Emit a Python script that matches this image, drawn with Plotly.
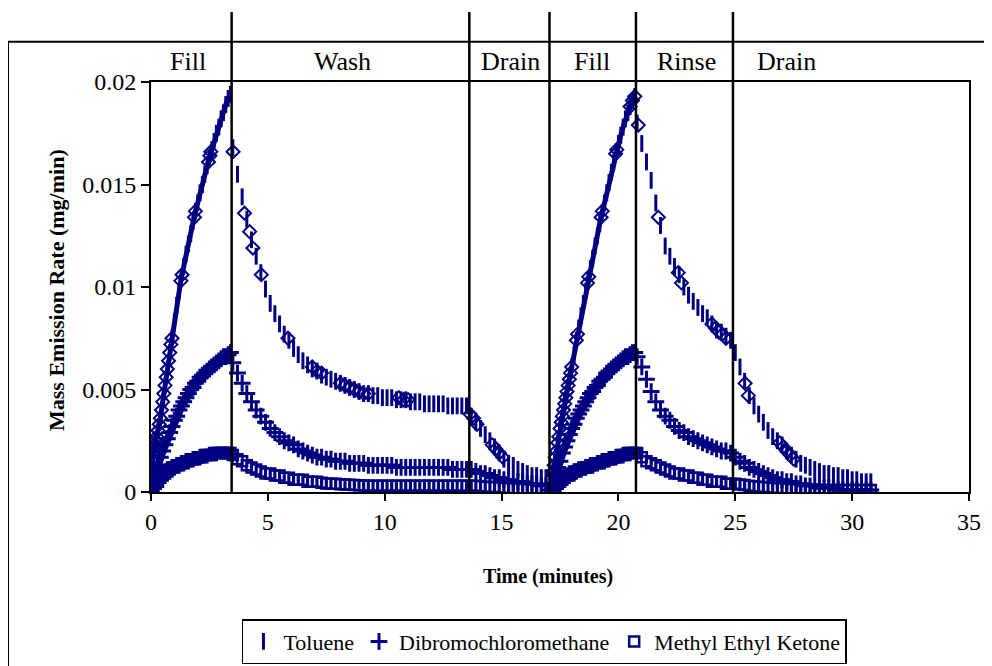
import plotly.graph_objects as go

# ---------------- data ----------------
t_fill1 = [0.0, 0.1, 0.2, 0.3, 0.4, 0.5, 0.6, 0.7, 0.8, 0.9, 1.0, 1.1, 1.2, 1.3, 1.4, 1.5, 1.6, 1.7,
           1.8, 1.9, 2.0, 2.1, 2.2, 2.3, 2.4, 2.5, 2.6, 2.7, 2.8, 2.9, 3.0, 3.1, 3.2, 3.3, 3.4]
t_wash = [3.5, 3.7, 3.9, 4.1, 4.3, 4.5, 4.7, 4.9, 5.1, 5.3, 5.5, 5.7, 5.9, 6.1, 6.3, 6.5, 6.7, 6.9,
          7.1, 7.3, 7.5, 7.7, 7.9, 8.1, 8.3, 8.5, 8.7, 8.9, 9.1, 9.3, 9.5, 9.7, 9.9, 10.1, 10.3, 10.5,
          10.7, 10.9, 11.1, 11.3, 11.5, 11.7, 11.9, 12.1, 12.3, 12.5, 12.7, 12.9, 13.1, 13.3, 13.5]
t_drain1 = [13.7, 13.9, 14.1, 14.3, 14.5, 14.7, 14.9, 15.1, 15.3, 15.5, 15.7, 15.9, 16.1, 16.3,
            16.5, 16.7, 16.9]
t_fill2 = [17.1, 17.2, 17.3, 17.4, 17.5, 17.6, 17.7, 17.8, 17.9, 18.0, 18.1, 18.2, 18.3, 18.4, 18.5,
           18.6, 18.7, 18.8, 18.9, 19.0, 19.1, 19.2, 19.3, 19.4, 19.5, 19.6, 19.7, 19.8, 19.9, 20.0,
           20.1, 20.2, 20.3, 20.4, 20.5, 20.6, 20.7]
t_rinse = [20.8, 21.0, 21.2, 21.4, 21.6, 21.8, 22.0, 22.2, 22.4, 22.6, 22.8, 23.0, 23.2, 23.4, 23.6,
           23.8, 24.0, 24.2, 24.4, 24.6, 24.8]
t_drain2 = [25.0, 25.2, 25.4, 25.6, 25.8, 26.0, 26.2, 26.4, 26.6, 26.8, 27.0, 27.2, 27.4, 27.6, 27.8,
            28.0, 28.2, 28.4, 28.6, 28.8, 29.0, 29.2, 29.4, 29.6, 29.8, 30.0, 30.2, 30.4, 30.6, 30.8]

# Toluene (mg/min)
tol_fill1 = [0.0002, 0.0020, 0.0025, 0.0030, 0.0036, 0.0044, 0.0052, 0.0060, 0.0068, 0.0075, 0.0083,
             0.0091, 0.0098, 0.0105, 0.0110, 0.0116, 0.0121, 0.0126, 0.0132, 0.0137, 0.0141, 0.0146,
             0.0150, 0.0155, 0.0159, 0.0163, 0.0167, 0.0171, 0.0175, 0.0178, 0.0182, 0.0185, 0.0189,
             0.0192, 0.0194]
tol_wash = [0.0168, 0.0155, 0.0144, 0.0133, 0.0123, 0.0115, 0.0107, 0.0099, 0.0092, 0.0087, 0.0082,
            0.0077, 0.0074, 0.0070, 0.0067, 0.0064, 0.0062, 0.0060, 0.0059, 0.0057, 0.0056, 0.0055,
            0.0054, 0.0053, 0.0052, 0.0051, 0.0050, 0.0049, 0.0048, 0.0048, 0.0047, 0.0047, 0.0046,
            0.0046, 0.0046, 0.0045, 0.0045, 0.0045, 0.0044, 0.0044, 0.0044, 0.0043, 0.0043, 0.0043,
            0.0043, 0.0043, 0.0042, 0.0042, 0.0042, 0.0042, 0.0042]
tol_drain1 = [0.0037, 0.0034, 0.0031, 0.0028, 0.0025, 0.0022, 0.0019, 0.0016, 0.0014, 0.0013, 0.0011,
              0.0010, 0.0009, 0.0008, 0.0008, 0.0007, 0.0007]
tol_fill2 = [0.0003, 0.0010, 0.0017, 0.0024, 0.0031, 0.0037, 0.0043, 0.0049, 0.0055, 0.0061, 0.0067,
             0.0074, 0.0080, 0.0086, 0.0092, 0.0098, 0.0103, 0.0109, 0.0114, 0.0120, 0.0125, 0.0131,
             0.0136, 0.0141, 0.0146, 0.0151, 0.0156, 0.0161, 0.0166, 0.0170, 0.0174, 0.0178, 0.0182,
             0.0185, 0.0188, 0.0191, 0.0193]
tol_rinse = [0.0180, 0.0170, 0.0161, 0.0152, 0.0141, 0.0130, 0.0120, 0.0115, 0.0110, 0.0106, 0.0100,
             0.0096, 0.0093, 0.0090, 0.0087, 0.0085, 0.0082, 0.0079, 0.0078, 0.0076, 0.0074]
tol_drain2 = [0.0068, 0.0061, 0.0054, 0.0047, 0.0042, 0.0038, 0.0034, 0.0030, 0.0027, 0.0025, 0.0023,
              0.0020, 0.0018, 0.0016, 0.0014, 0.0013, 0.0012, 0.0011, 0.0010, 0.0009, 0.0009, 0.0008,
              0.0008, 0.0007, 0.0007, 0.0006, 0.0006, 0.0005, 0.0005, 0.0005]

# Dibromochloromethane (mg/min)
dbcm_fill1 = [0.0000, 0.0005, 0.0009, 0.0013, 0.0017, 0.0020, 0.0023, 0.0026, 0.0029, 0.0032, 0.0035,
              0.0037, 0.0040, 0.0042, 0.0044, 0.0046, 0.0048, 0.0050, 0.0051, 0.0053, 0.0054, 0.0056,
              0.0057, 0.0058, 0.0059, 0.0060, 0.0061, 0.0062, 0.0063, 0.0064, 0.0065, 0.0066, 0.0066,
              0.0067, 0.0068]
dbcm_wash = [0.0063, 0.0058, 0.0053, 0.0048, 0.0044, 0.0040, 0.0037, 0.0034, 0.0031, 0.0029, 0.0027,
             0.0025, 0.0024, 0.0023, 0.0021, 0.0020, 0.0019, 0.0018, 0.0017, 0.0017, 0.0016, 0.0016,
             0.0015, 0.0015, 0.0015, 0.0014, 0.0014, 0.0014, 0.0014, 0.0013, 0.0013, 0.0013, 0.0013,
             0.0013, 0.0013, 0.0012, 0.0012, 0.0012, 0.0012, 0.0012, 0.0012, 0.0012, 0.0012, 0.0012,
             0.0012, 0.0012, 0.0012, 0.0011, 0.0011, 0.0011, 0.0011]
dbcm_drain1 = [0.0011, 0.0010, 0.0009, 0.0009, 0.0008, 0.0007, 0.0007, 0.0006, 0.0006, 0.0005, 0.0005,
               0.0005, 0.0004, 0.0004, 0.0004, 0.0003, 0.0003]
dbcm_fill2 = [0.0001, 0.0004, 0.0008, 0.0012, 0.0015, 0.0019, 0.0022, 0.0025, 0.0028, 0.0031, 0.0033,
              0.0036, 0.0038, 0.0040, 0.0042, 0.0044, 0.0046, 0.0048, 0.0049, 0.0051, 0.0052, 0.0054,
              0.0055, 0.0056, 0.0058, 0.0059, 0.0060, 0.0061, 0.0062, 0.0063, 0.0064, 0.0065, 0.0066,
              0.0066, 0.0067, 0.0068, 0.0068]
dbcm_rinse = [0.0066, 0.0061, 0.0055, 0.0049, 0.0044, 0.0040, 0.0037, 0.0035, 0.0032, 0.0030, 0.0029,
              0.0027, 0.0026, 0.0025, 0.0024, 0.0023, 0.0022, 0.0021, 0.0020, 0.0020, 0.0019]
dbcm_drain2 = [0.0017, 0.0015, 0.0014, 0.0012, 0.0011, 0.0010, 0.0009, 0.0008, 0.0007, 0.0006, 0.0006,
               0.0005, 0.0005, 0.0004, 0.0004, 0.0003, 0.0003, 0.0003, 0.0002, 0.0002, 0.0002, 0.0002,
               0.0001, 0.0001, 0.0001, 0.0001, 0.0001, 0.0001, 0.0001, 0.0001]

# Methyl Ethyl Ketone (mg/min)
mek_fill1 = [0.0000, 0.0002, 0.0004, 0.0005, 0.0007, 0.0008, 0.0009, 0.0010, 0.0011, 0.0012, 0.0012,
             0.0013, 0.0013, 0.0014, 0.0014, 0.0015, 0.0015, 0.0016, 0.0016, 0.0016, 0.0017, 0.0017,
             0.0017, 0.0018, 0.0018, 0.0018, 0.0018, 0.0019, 0.0019, 0.0019, 0.0019, 0.0019, 0.0019,
             0.0019, 0.0019]
mek_wash = [0.0018, 0.0016, 0.0015, 0.0013, 0.0012, 0.0011, 0.0010, 0.0009, 0.0009, 0.0008, 0.0008,
            0.0007, 0.0007, 0.0006, 0.0006, 0.0006, 0.0005, 0.0005, 0.0005, 0.00045, 0.00042, 0.0004,
            0.0004, 0.00038, 0.00036, 0.00035, 0.00034, 0.00033, 0.00032, 0.00031, 0.0003, 0.0003,
            0.0003, 0.0003, 0.0003, 0.0003, 0.0003, 0.0003, 0.0003, 0.0003, 0.0003, 0.0003, 0.0003,
            0.0003, 0.0003, 0.0003, 0.0003, 0.0003, 0.0003, 0.0003, 0.0003]
mek_drain1 = [0.0003, 0.0003, 0.00028, 0.00026, 0.00025, 0.00024, 0.00022, 0.0002, 0.0002, 0.00018,
              0.00017, 0.00016, 0.00015, 0.00014, 0.00013, 0.00012, 0.0001]
mek_fill2 = [0.0000, 0.0002, 0.0003, 0.0004, 0.0005, 0.0006, 0.0007, 0.0008, 0.0008, 0.0009, 0.0010,
             0.0010, 0.0011, 0.0011, 0.0012, 0.0012, 0.0012, 0.0013, 0.0013, 0.0014, 0.0014, 0.0014,
             0.0015, 0.0015, 0.0016, 0.0016, 0.0016, 0.0017, 0.0017, 0.0017, 0.0018, 0.0018, 0.0018,
             0.0019, 0.0019, 0.0019, 0.0019]
mek_rinse = [0.0019, 0.0017, 0.0015, 0.0014, 0.0013, 0.0012, 0.0011, 0.0010, 0.0009, 0.0009, 0.0008,
             0.0008, 0.0007, 0.0007, 0.0006, 0.0006, 0.0005, 0.0005, 0.0005, 0.0004, 0.0004]
mek_drain2 = [0.0004, 0.00037, 0.00034, 0.00031, 0.00028, 0.00026, 0.00024, 0.00022, 0.0002, 0.00019,
              0.00018, 0.00017, 0.00016, 0.00015, 0.00014, 0.00013, 0.00012, 0.00012, 0.00011, 0.0001,
              0.0001, 0.0001, 0.0001, 0.0001, 0.0001, 0.0001, 0.0001, 0.0001, 0.0001, 0.0001]

# Open-diamond points drawn on the toluene curve (no legend entry)
diamond_t = [0.05, 0.1, 0.15, 0.2, 0.25, 0.3, 0.35, 0.4, 0.45, 0.5, 0.55, 0.6, 0.65, 0.7, 0.75, 0.8,
             0.85, 0.9, 1.28, 1.33, 1.86, 1.9, 2.46, 2.52, 2.56,
             3.51, 4.0, 4.22, 4.36, 4.72, 5.86, 6.9, 7.1, 7.3, 8.1, 8.3, 8.5, 8.7, 8.9, 9.1, 9.3,
             10.6, 10.8, 11.0,
             13.65, 13.8, 13.95, 14.6, 14.75, 14.9, 15.05,
             17.2, 17.25, 17.3, 17.35, 17.4, 17.45, 17.5, 17.55, 17.6, 17.65, 17.7, 17.75, 17.8,
             17.85, 17.9, 17.95, 18.0, 18.2, 18.25, 18.68, 18.73, 19.26, 19.31, 19.88, 19.93, 20.5,
             20.6, 20.7,
             20.85, 21.71, 22.56, 22.7, 24.0, 24.15, 24.3, 24.45, 24.6,
             25.42, 25.56, 26.9, 27.05, 27.2, 27.35, 27.5]
diamond_v = [0.0019, 0.0021, 0.0023, 0.0025, 0.0027, 0.0030, 0.0033, 0.0036, 0.0040, 0.0044, 0.0048,
             0.0052, 0.0056, 0.0060, 0.0064, 0.0068, 0.0072, 0.0075, 0.0103, 0.0106, 0.0134, 0.0137,
             0.0161, 0.0164, 0.0166,
             0.0166, 0.0136, 0.0127, 0.0119, 0.0106, 0.0075, 0.0061, 0.0059, 0.0058, 0.0053, 0.0052,
             0.0051, 0.0050, 0.0049, 0.0048, 0.0048, 0.0046, 0.0045, 0.0045,
             0.0038, 0.0036, 0.0033, 0.0023, 0.0021, 0.0019, 0.0017,
             0.0010, 0.0013, 0.0017, 0.0020, 0.0024, 0.0027, 0.0031, 0.0034, 0.0037, 0.0040, 0.0043,
             0.0046, 0.0049, 0.0052, 0.0055, 0.0058, 0.0061, 0.0074, 0.0077, 0.0102, 0.0105, 0.0134,
             0.0137, 0.0165, 0.0167, 0.0188, 0.0191, 0.0193,
             0.0179, 0.0134, 0.0107, 0.0102, 0.0082, 0.0080, 0.0078, 0.0077, 0.0075,
             0.0053, 0.0047, 0.0024, 0.0022, 0.0020, 0.0018, 0.0016]

phase_bounds = [3.45, 13.62, 17.05, 20.75, 24.9]
phase_labels = ["Fill", "Wash", "Drain", "Fill", "Rinse", "Drain"]
phase_label_x = [1.6, 8.2, 15.4, 18.85, 22.9, 27.2]

x_ticks = [0, 5, 10, 15, 20, 25, 30, 35]
y_ticks = [0, 0.005, 0.01, 0.015, 0.02]

# ---------------- assemble ----------------
t_all = t_fill1 + t_wash + t_drain1 + t_fill2 + t_rinse + t_drain2
tol_all = tol_fill1 + tol_wash + tol_drain1 + tol_fill2 + tol_rinse + tol_drain2
dbcm_all = dbcm_fill1 + dbcm_wash + dbcm_drain1 + dbcm_fill2 + dbcm_rinse + dbcm_drain2
mek_all = mek_fill1 + mek_wash + mek_drain1 + mek_fill2 + mek_rinse + mek_drain2

# fill phases: markers are so dense there that they merge into solid bands
t_fills = t_fill1 + [None] + t_fill2
tol_fills = tol_fill1 + [None] + tol_fill2
dbcm_fills = dbcm_fill1 + [None] + dbcm_fill2
mek_fills = mek_fill1 + [None] + mek_fill2

NAVY = "#000080"
SERIF = "Liberation Serif, Times New Roman, serif"

fig = go.Figure()
# solid bands where the reference's markers merge together
fig.add_trace(go.Scatter(x=t_fills, y=mek_fills, mode="lines", showlegend=False, hoverinfo="skip",
                         line=dict(color=NAVY, width=9)))
fig.add_trace(go.Scatter(x=t_fills, y=dbcm_fills, mode="lines", showlegend=False, hoverinfo="skip",
                         line=dict(color=NAVY, width=8)))
fig.add_trace(go.Scatter(x=t_fills, y=tol_fills, mode="lines", showlegend=False, hoverinfo="skip",
                         line=dict(color=NAVY, width=5)))

fig.add_trace(go.Scatter(
    x=t_all, y=mek_all, mode="markers", name="Methyl Ethyl Ketone",
    marker=dict(symbol="square-open", size=10, color=NAVY, line=dict(width=2.5, color=NAVY)),
    legendrank=3))
fig.add_trace(go.Scatter(
    x=t_all, y=dbcm_all, mode="markers", name="Dibromochloromethane",
    marker=dict(symbol="cross-thin", size=12, color=NAVY, line=dict(width=3, color=NAVY)),
    legendrank=2))
fig.add_trace(go.Scatter(
    x=t_all, y=tol_all, mode="markers", name="Toluene",
    marker=dict(symbol="line-ns", size=12, color=NAVY, line=dict(width=3, color=NAVY)),
    legendrank=1))
fig.add_trace(go.Scatter(
    x=diamond_t, y=diamond_v, mode="markers", showlegend=False,
    marker=dict(symbol="diamond-open", size=10, color=NAVY, line=dict(width=2, color=NAVY))))

shapes = []
# outer frame (extends past the right and bottom edges of the page)
shapes.append(dict(type="rect", xref="paper", yref="paper", x0=-0.1748, x1=1.2, y0=-1.0, y1=1.0983,
                   line=dict(color="black", width=2), layer="below"))
for b in phase_bounds:
    shapes.append(dict(type="line", xref="x", yref="paper", x0=b, x1=b, y0=0, y1=1.1707,
                       line=dict(color="black", width=2.5)))

annotations = []
for lab, lx in zip(phase_labels, phase_label_x):
    annotations.append(dict(x=lx, y=1.049, xref="x", yref="paper", text=lab, showarrow=False,
                            font=dict(family=SERIF, size=26, color="black"),
                            xanchor="center", yanchor="middle"))
# axis titles (placed where the reference has them)
annotations.append(dict(x=0.4853, y=-0.205, xref="paper", yref="paper",
                        text="<b>Time (minutes)</b>", showarrow=False,
                        font=dict(family=SERIF, size=20, color="black"),
                        xanchor="center", yanchor="middle"))
annotations.append(dict(x=-0.1149, y=0.4927, xref="paper", yref="paper",
                        text="<b>Mass Emission Rate (mg/min)</b>", showarrow=False, textangle=-90,
                        font=dict(family=SERIF, size=22, color="black"),
                        xanchor="center", yanchor="middle"))

# the page body adds an 8 px offset, so the figure is 984x658 with margins shifted by 8 px
fig.update_layout(
    width=984, height=658,
    margin=dict(l=143, r=23, t=74, b=174, autoexpand=False),
    paper_bgcolor="white", plot_bgcolor="white",
    font=dict(family=SERIF, color="black"),
    shapes=shapes, annotations=annotations,
    showlegend=True,
    legend=dict(orientation="h", x=0.481, xanchor="center", y=-0.31, yanchor="top",
                bordercolor="black", borderwidth=1.5, bgcolor="white",
                font=dict(family=SERIF, size=22, color="black"),
                traceorder="normal", itemwidth=30),
)
fig.update_xaxes(range=[0, 35], tickvals=x_ticks, showgrid=False, zeroline=False, automargin=False,
                 showline=True, linecolor="black", linewidth=2, mirror=True,
                 ticks="outside", ticklen=7, tickwidth=2, tickcolor="black",
                 tickfont=dict(family=SERIF, size=24, color="black"))
fig.update_yaxes(range=[0, 0.02], tickvals=y_ticks, ticktext=["0", "0.005", "0.01", "0.015", "0.02"],
                 showgrid=False, zeroline=False, automargin=False,
                 showline=True, linecolor="black", linewidth=2, mirror=True,
                 ticks="outside", ticklen=8, tickwidth=2, tickcolor="black",
                 tickfont=dict(family=SERIF, size=24, color="black"))

fig.write_html("out.html")
